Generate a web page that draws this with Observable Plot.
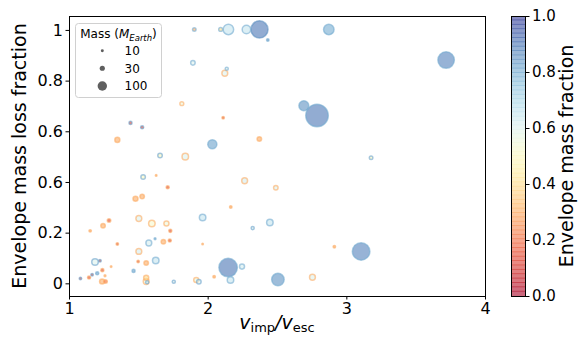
<!DOCTYPE html>
<html><head><meta charset="utf-8">
<script src="https://cdn.jsdelivr.net/npm/d3@7"></script>
<script src="https://cdn.jsdelivr.net/npm/@observablehq/plot@0.6"></script>
<style>
body{margin:0;background:#fff;font-family:"DejaVu Sans",sans-serif}
#wrap{position:relative;width:578px;height:347px;overflow:hidden}
#wrap svg{position:absolute;left:0;top:0}
</style></head><body><div id="wrap"></div>
<script>
// impact velocity ratio v_imp/v_esc
const vRatio = [1.90,2.09,2.146,2.276,2.37,2.43,2.87,1.89,2.134,2.12,1.81,2.108,2.69,2.785,3.716,
 1.44,1.524,1.345,2.03,1.653,1.835,1.531,1.625,1.708,1.524,1.476,1.285,1.50,1.96,2.369,2.263,2.488,
 2.163,2.445,3.175,1.594,1.699,1.242,1.149,1.727,1.345,1.572,1.617,1.677,1.723,1.96,1.184,1.22,1.30,
 1.50,1.495,1.553,1.622,1.462,1.079,1.141,1.163,1.20,1.237,1.256,1.235,1.26,1.553,1.553,1.56,1.752,
 1.914,1.933,2.043,2.321,2.91,2.144,2.244,2.161,2.503,2.752,3.103];
// envelope mass loss fraction
const lossFrac = [1.004,1.004,1.004,1.004,1.004,0.962,1.004,0.872,0.849,0.831,0.711,0.655,0.703,0.664,0.883,
 0.635,0.618,0.568,0.551,0.506,0.502,0.422,0.428,0.381,0.345,0.336,0.25,0.258,0.262,0.572,0.407,0.379,
 0.303,0.242,0.498,0.238,0.238,0.229,0.209,0.209,0.157,0.161,0.178,0.166,0.171,0.157,0.086,0.091,0.068,
 0.128,0.088,0.082,0.092,0.051,0.021,0.025,0.036,0.042,0.054,0.032,0.009,0.009,0.024,0.009,0.006,0.008,
 0.015,0.008,0.028,0.22,0.146,0.064,0.068,0.015,0.017,0.026,0.128];
// mass (M_Earth)
const mass = [14,17,125,82,331,7,125,23,11,39,17,7,111,573,308,
 11,11,29,94,23,48,23,3,11,23,29,14,39,48,23,39,23,
 7,48,14,48,29,23,7,11,7,39,4,23,11,3,48,7,3,
 39,7,23,48,11,7,11,7,11,11,4,29,14,29,39,11,11,
 29,23,7,11,7,387,29,48,177,39,347];
// envelope mass fraction (fill) and edge value
const envFill = [0.3,0.4,0.65,0.65,0.9,0.85,0.8,0.6,0.6,0.6,0.55,0.12,0.85,0.9,0.88,
 0.12,0.12,0.3,0.82,0.5,0.6,0.5,0.3,0.12,0.3,0.3,0.12,0.6,0.65,0.3,0.62,0.6,
 0.3,0.65,0.5,0.52,0.55,0.3,0.3,0.12,0.12,0.62,0.82,0.3,0.12,0.3,0.6,0.12,0.3,
 0.62,0.12,0.3,0.65,0.82,0.12,0.12,0.12,0.82,0.12,0.3,0.3,0.2,0.4,0.55,0.6,0.6,
 0.55,0.6,0.3,0.6,0.3,0.9,0.62,0.65,0.85,0.6,0.88];
const envEdge = [0.8,0.8,0.8,0.8,0.85,0.8,0.8,0.8,0.8,0.3,0.3,0.3,0.8,0.8,0.8,
 0.82,0.82,0.3,0.8,0.82,0.3,0.82,0.3,0.3,0.3,0.3,0.3,0.3,0.8,0.3,0.3,0.3,
 0.3,0.8,0.82,0.3,0.3,0.3,0.3,0.3,0.3,0.8,0.8,0.3,0.3,0.3,0.82,0.82,0.3,
 0.3,0.3,0.3,0.8,0.8,0.82,0.3,0.82,0.8,0.3,0.3,0.3,0.3,0.3,0.3,0.82,0.82,
 0.3,0.82,0.3,0.82,0.3,0.8,0.8,0.8,0.8,0.3,0.8];

const xTicks = [1,2,3,4];
const yTicks = [0,0.2,0.4,0.6,0.8,1];
const yTickLabels = ["0","0.2","0.6","0.6","0.8","1"];
const cbTicks = [0,0.2,0.4,0.6,0.8,1.0];
const legendMasses = [10,30,100];

const data = vRatio.map((v,i)=>({v, loss: lossFrac[i], m: mass[i], fill: envFill[i], edge: envEdge[i]}));
const colorOpts = {type:"linear", scheme:"RdYlBu", domain:[0,1]};
const wrap = document.getElementById("wrap");

const main = Plot.plot({
  width:578, height:347, marginLeft:69, marginRight:93, marginTop:16, marginBottom:51,
  style:{fontFamily:"DejaVu Sans", fontSize:"16px", background:"transparent", color:"#000", overflow:"visible"},
  x:{domain:[1,4], ticks:xTicks, tickFormat:d=>String(d), tickSize:3.5, tickPadding:3, label:null},
  y:{domain:[-0.05,1.055], ticks:yTicks, tickFormat:d=>yTickLabels[yTicks.indexOf(d)], tickSize:3.5, tickPadding:3, label:null},
  r:{type:"sqrt", domain:[0,100], range:[0,4.7]},
  color:colorOpts,
  marks:[
    Plot.dot(data,{x:"v", y:"loss", r:"m", fill:"fill", stroke:"edge", fillOpacity:0.6, strokeOpacity:0.6, strokeWidth:1.5}),
    Plot.frame({stroke:"#000", strokeWidth:1})
  ]
});
wrap.appendChild(main);

// axis labels
const ms = d3.select(main);
const xl = ms.append("text").attr("x",277).attr("y",329).attr("text-anchor","middle")
  .attr("font-family","DejaVu Sans").attr("font-size",19).attr("fill","#000");
xl.append("tspan").attr("font-style","italic").text("v");
xl.append("tspan").attr("font-size",13).attr("dy",3).text("imp");
xl.append("tspan").attr("dy",-3).attr("font-style","italic").text("/v");
xl.append("tspan").attr("font-size",13).attr("dy",3).text("esc");
ms.append("text").attr("transform","translate(26,156) rotate(-90)").attr("text-anchor","middle")
  .attr("font-family","DejaVu Sans").attr("font-size",19).attr("fill","#000").text("Envelope mass loss fraction");

// colorbar
const nb = 64;
const bands = d3.range(nb).map(i=>({y1:i/nb, y2:Math.min(1,(i+1)/nb+0.003), v:(i+0.5)/nb}));
const cb = Plot.plot({
  width:578, height:347, marginLeft:511, marginRight:53, marginTop:16, marginBottom:51,
  style:{fontFamily:"DejaVu Sans", fontSize:"15px", background:"transparent", color:"#000", overflow:"visible"},
  x:{domain:[0,1], axis:null},
  y:{domain:[0,1], axis:"right", ticks:cbTicks, tickFormat:d=>d.toFixed(1), tickSize:3.5, tickPadding:3, label:null},
  color:colorOpts,
  marks:[
    Plot.rect(bands,{x1:0, x2:1, y1:"y1", y2:"y2", fill:"v", fillOpacity:0.6}),
    Plot.frame({stroke:"#000", strokeWidth:1})
  ]
});
wrap.appendChild(cb);
d3.select(cb).append("text").attr("transform","translate(573,156) rotate(-90)").attr("text-anchor","middle")
  .attr("font-family","DejaVu Sans").attr("font-size",19).attr("fill","#000").text("Envelope mass fraction");

// size legend
const rScale = main.scale("r");
const lg = d3.select(wrap).append("svg").attr("width",578).attr("height",347);
lg.append("rect").attr("x",75.5).attr("y",23.5).attr("width",86).attr("height",74).attr("rx",3)
  .attr("fill","rgba(255,255,255,0.85)").attr("stroke","#d0d0d0");
const lt = lg.append("text").attr("x",118.5).attr("y",38).attr("text-anchor","middle")
  .attr("font-family","DejaVu Sans").attr("font-size",12).attr("fill","#000");
lt.append("tspan").text("Mass (");
lt.append("tspan").attr("font-style","italic").text("M");
lt.append("tspan").attr("font-style","italic").attr("font-size",8.5).attr("dy",2.5).text("Earth");
lt.append("tspan").attr("dy",-2.5).text(")");
const rowY = [50.7, 68.3, 86];
legendMasses.forEach((m,i)=>{
  lg.append("circle").attr("cx",102.3).attr("cy",rowY[i]).attr("r",rScale.apply(m)).attr("fill","#5f5f5f");
  lg.append("text").attr("x",124.5).attr("y",rowY[i]+4.3).attr("font-family","DejaVu Sans").attr("font-size",12).attr("fill","#000").text(String(m));
});
</script></body></html>
